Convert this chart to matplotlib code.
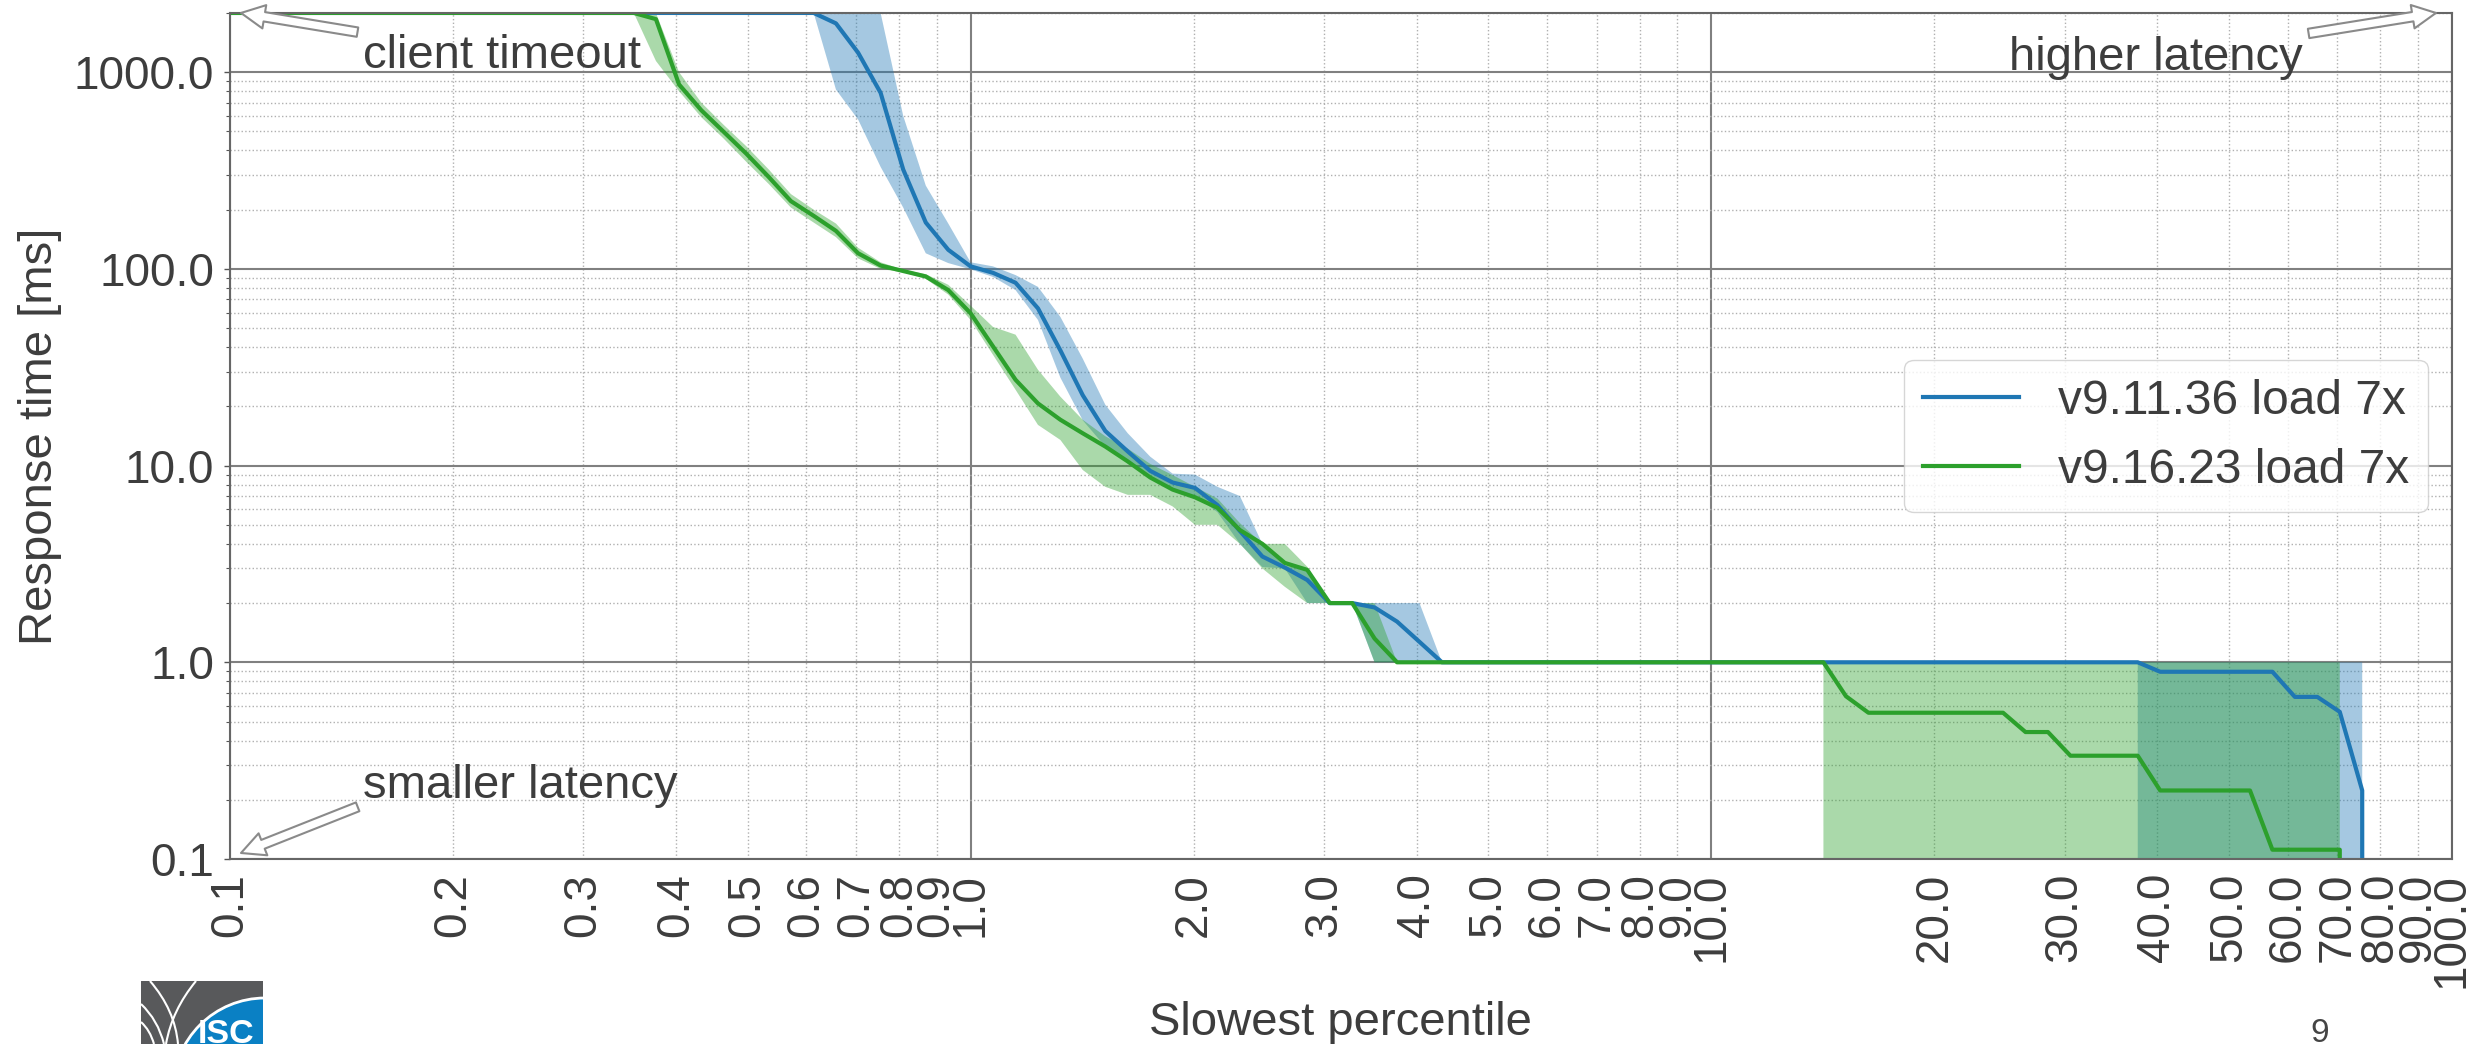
import matplotlib
matplotlib.use('Agg')
import matplotlib.pyplot as plt
from matplotlib.ticker import LogLocator, FormatStrFormatter, NullFormatter
from matplotlib.patches import Rectangle, Circle, PathPatch
from matplotlib.path import Path

plt.rcParams['font.family'] = ['Liberation Sans', 'DejaVu Sans']

TEXT = '#3d3d3d'
BLUE = '#1f77b4'
GREEN = '#2ca02c'

# slowest percentile (x) and response time in ms: line, band low, band high
blue_x = [0.1, 0.614, 0.658, 0.705, 0.756, 0.811, 0.870, 0.933, 1.0, 1.072,
          1.150, 1.233, 1.322, 1.417, 1.520, 1.630, 1.748, 1.874, 2.009, 2.154,
          2.310, 2.477, 2.656, 2.848, 3.054, 3.275, 3.511, 3.765, 4.037, 4.329,
          37.65, 40.37, 57.22, 61.36, 65.79, 70.55, 75.65, 81.11]
blue_mid = [2000, 2000, 1770, 1255, 785, 320, 172, 125, 103, 95.5,
            85, 63, 38.5, 22.8, 15.0, 11.8, 9.4, 8.2, 7.7, 6.3,
            4.65, 3.45, 3.03, 2.62, 2.0, 2.0, 1.9, 1.61, 1.27, 1.0,
            1.0, 0.895, 0.895, 0.667, 0.667, 0.56, 0.223, 0]
blue_lo = [2000, 2000, 816, 574, 330, 205, 120, 107, 99.5, 91,
           78, 55, 28, 17, 12.5, 10.3, 8.6, 7.6, 7.0, 5.8,
           4.0, 3.05, 3.0, 2.0, 2.0, 2.0, 1.0, 1.0, 1.0, 1.0,
           1.0, 0, 0, 0, 0, 0, 0, 0]
blue_hi = [2000, 2000, 2000, 2000, 2000, 600, 265, 170, 108, 103,
           93, 81, 57, 35, 20.4, 14.6, 11.1, 9.1, 9.0, 7.8,
           7.0, 4.0, 3.1, 2.95, 2.0, 2.0, 2.0, 2.0, 2.0, 1.0,
           1.0, 1.0, 1.0, 1.0, 1.0, 1.0, 1.0, 0]

green_x = [0.1, 0.351, 0.376, 0.404, 0.433, 0.464, 0.498, 0.534, 0.572, 0.614,
           0.658, 0.705, 0.756, 0.811, 0.870, 0.933, 1.0, 1.072, 1.150, 1.233,
           1.322, 1.417, 1.520, 1.630, 1.748, 1.874, 2.009, 2.154, 2.310, 2.477,
           2.656, 2.848, 3.054, 3.275, 3.511, 3.765, 14.17, 15.20, 16.30, 24.77,
           26.56, 28.48, 30.54, 37.65, 40.37, 53.37, 57.22, 70.55, 75.65]
green_mid = [2000, 2000, 1860, 866, 640, 498, 385, 293, 221, 186,
             156, 120, 104, 97.5, 91.5, 78, 59.5, 40.4, 27.3, 20.7,
             17.1, 14.6, 12.5, 10.5, 8.7, 7.55, 6.9, 6.1, 4.7, 4.0,
             3.2, 2.95, 2.0, 2.0, 1.32, 1.0, 1.0, 0.672, 0.554, 0.554,
             0.442, 0.442, 0.335, 0.335, 0.223, 0.223, 0.1115, 0.1115, 0]
green_lo = [2000, 2000, 1140, 800, 590, 460, 350, 270, 205, 172,
            145, 113, 100, 96, 89, 74, 55, 36.6, 24.3, 16.1,
            13.5, 9.5, 7.8, 7.1, 7.1, 6.2, 5.0, 5.0, 4.0, 3.0,
            2.42, 2.0, 2.0, 2.0, 1.0, 1.0, 1.0, 0, 0, 0,
            0, 0, 0, 0, 0, 0, 0, 0, 0]
green_hi = [2000, 2000, 2000, 1000, 700, 540, 420, 320, 240, 200,
            170, 128, 108, 99, 94, 83, 65, 50.7, 46.3, 30.7,
            22.4, 17.1, 14.1, 12.2, 10.2, 8.95, 7.8, 6.8, 5.1, 4.0,
            4.0, 3.06, 2.0, 2.0, 2.0, 1.0, 1.0, 1.0, 1.0, 1.0,
            1.0, 1.0, 1.0, 1.0, 1.0, 1.0, 1.0, 1.0, 0]

labels = ['v9.11.36 load 7x', 'v9.16.23 load 7x']

fig = plt.figure(figsize=(24.8, 10.44), dpi=100)
ax = fig.add_axes([0.0927, 0.1772, 0.896, 0.8104])
ax.set_xscale('log')
ax.set_yscale('log')

ax.plot(blue_x, blue_mid, color=BLUE, lw=3, label=labels[0])
ax.fill_between(blue_x, blue_lo, blue_hi, color=BLUE, alpha=0.4, lw=0)
ax.plot(green_x, green_mid, color=GREEN, lw=3, label=labels[1])
ax.fill_between(green_x, green_lo, green_hi, color=GREEN, alpha=0.4, lw=0)

ax.set_xlim(0.1, 100)
ax.set_ylim(0.1, 2000)

ax.xaxis.set_major_locator(LogLocator(base=10))
ax.xaxis.set_minor_locator(LogLocator(base=10, subs=range(2, 10)))
ax.xaxis.set_major_formatter(FormatStrFormatter('%.1f'))
ax.xaxis.set_minor_formatter(FormatStrFormatter('%.1f'))
ax.yaxis.set_major_locator(LogLocator(base=10))
ax.yaxis.set_minor_locator(LogLocator(base=10, subs=range(2, 10)))
ax.yaxis.set_major_formatter(FormatStrFormatter('%.1f'))
ax.yaxis.set_minor_formatter(NullFormatter())

ax.tick_params(axis='x', which='both', length=0, pad=10, labelsize=33,
               labelcolor=TEXT, labelrotation=90)
ax.tick_params(axis='y', which='major', length=4.5, width=1, color='#555555',
               pad=7, labelsize=33, labelcolor=TEXT)
ax.tick_params(axis='y', which='minor', length=3, width=0.8, color='#555555')

ax.set_axisbelow(True)
ax.grid(True, which='major', color='#808080', lw=1.5, ls='-')
ax.grid(True, which='minor', color='#b0b0b0', lw=1.0, ls=':')
for s in ax.spines.values():
    s.set_color('#666666')
    s.set_linewidth(1.5)

ax.set_ylabel('Response time [ms]', fontsize=34, color=TEXT)
ax.yaxis.set_label_coords(-0.0756, 0.5)
ax.set_xlabel('Slowest percentile', fontsize=34, color=TEXT)
ax.xaxis.set_label_coords(0.5, -0.168)

leg = ax.legend(loc='center right', fontsize=34.5, framealpha=0.8,
                edgecolor='#cccccc', fancybox=True)
for t in leg.get_texts():
    t.set_color(TEXT)

arrow = dict(arrowstyle='simple', fc='white', ec='#8a8a8a', lw=1.5, shrinkB=0)
ax.annotate('client timeout', xy=(0.005, 1.0), xycoords='axes fraction',
            xytext=(0.0599, 0.935), textcoords='axes fraction',
            ha='left', va='baseline', fontsize=34, color=TEXT, arrowprops=arrow)
ax.annotate('higher latency', xy=(0.9928, 1.0), xycoords='axes fraction',
            xytext=(0.933, 0.9326), textcoords='axes fraction',
            ha='right', va='baseline', fontsize=34, color=TEXT, arrowprops=arrow)
ax.annotate('smaller latency', xy=(0.005, 0.0071), xycoords='axes fraction',
            xytext=(0.0599, 0.0721), textcoords='axes fraction',
            ha='left', va='baseline', fontsize=34, color=TEXT,
            arrowprops=dict(arrow, relpos=(0.15, 0.5)))

# page number
fig.text(2320 / 2480, 0.002, '9', fontsize=24, color='#444444',
         ha='center', va='baseline')

# ISC logo, cut off by the bottom of the slide
lg = fig.add_axes([141 / 2480, 0, 122 / 2480, 63 / 1044])
lg.set_xlim(141, 263)
lg.set_ylim(1044, 981)
lg.axis('off')
lg.add_patch(Rectangle((141, 981), 122, 63, color='#58595b'))
lg.add_patch(Circle((265, 1090), 92, fc='#0a80c4', ec='white', lw=2))
for verts in ([(150, 981), (175, 1010), (178, 1044)],
              [(196, 981), (172, 1010), (166, 1044)],
              [(141, 1004), (158, 1020), (164, 1044)],
              [(141, 1022), (150, 1030), (154, 1044)]):
    lg.add_patch(PathPatch(Path(verts, [Path.MOVETO, Path.CURVE3, Path.CURVE3]),
                           fc='none', ec='white', lw=1.5))
lg.text(198, 1043, 'ISC', fontsize=24.5, fontweight='bold', color='white',
        ha='left', va='baseline')

fig.savefig('out.png', dpi=100, facecolor='white')
